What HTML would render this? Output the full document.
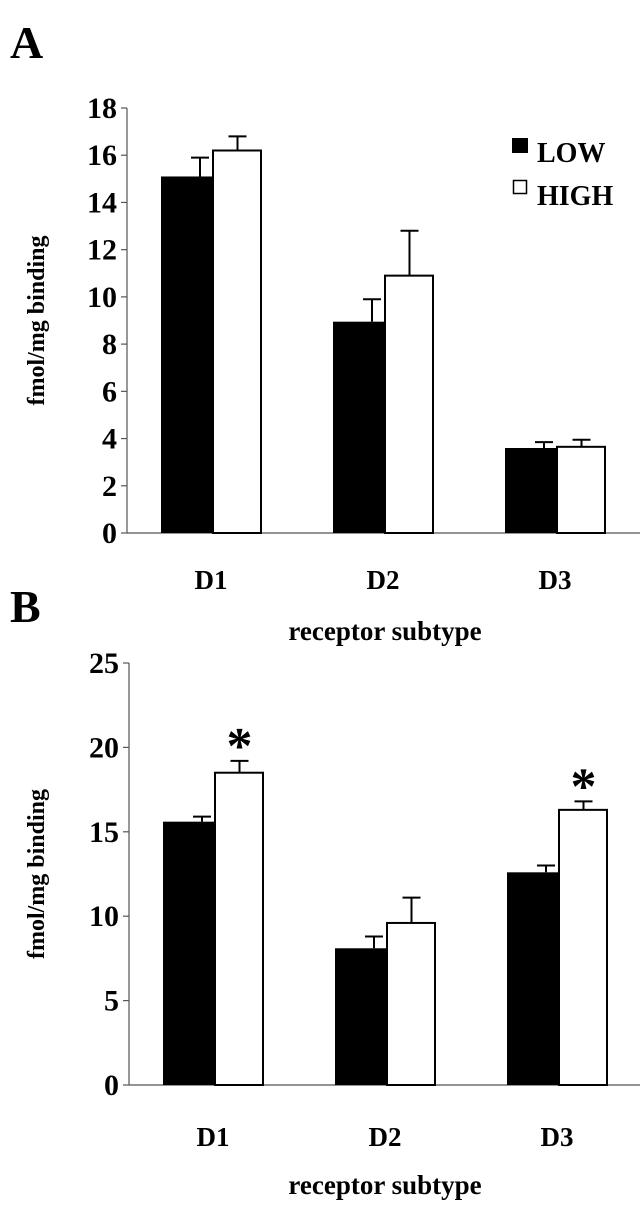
<!DOCTYPE html>
<html><head><meta charset="utf-8"><style>
body{margin:0;background:#fff}
svg text{font-family:"Liberation Serif",serif;font-weight:bold;fill:#000}
</style></head><body>
<svg width="644" height="1200" xmlns="http://www.w3.org/2000/svg">
<script>
const categories=["D1","D2","D3"];
const lowA=[15.1,8.95,3.6];
const lowAErr=[15.9,9.9,3.85];
const highA=[16.2,10.9,3.65];
const highAErr=[16.8,12.8,3.95];
const ticksA=[0,2,4,6,8,10,12,14,16,18];
const lowB=[15.6,8.1,12.6];
const lowBErr=[15.9,8.8,13.0];
const highB=[18.5,9.6,16.3];
const highBErr=[19.2,11.1,16.8];
const ticksB=[0,5,10,15,20,25];
const sigB=[true,false,true];
</script>
<text x="10" y="58" font-size="46">A</text>
<text x="10" y="622" font-size="46">B</text>
<g id="pa"></g>
<g id="pb"></g>
<g>
<rect x="512" y="138" width="16" height="15" fill="#000"/>
<text x="537" y="162" font-size="28">LOW</text>
<rect x="513.5" y="180.5" width="13" height="13" fill="#fff" stroke="#000" stroke-width="1.5"/>
<text x="537" y="205" font-size="28">HIGH</text>
</g>
<script>
const NS="http://www.w3.org/2000/svg";
function mk(p,t,a){const e=document.createElementNS(NS,t);for(const k in a)e.setAttribute(k,a[k]);p.appendChild(e);return e;}
function panel(g,o){
  const y=v=>o.y0-(v/o.max)*(o.y0-o.yTop);
  const ax=mk(g,"line",{x1:o.ax,y1:o.yTop,x2:o.ax,y2:o.y0,stroke:"#555","stroke-width":1.2});
  
  
  const xa=mk(g,"line",{x1:o.ax,y1:o.y0,x2:640,y2:o.y0,stroke:"#555","stroke-width":1.2});
  
  
  o.ticks.forEach(t=>{
    const tk=mk(g,"line",{x1:o.ax-6,y1:y(t),x2:o.ax,y2:y(t),stroke:"#555","stroke-width":1.2});
    
    
    const tl=mk(g,"text",{x:o.ax-10,y:y(t)+10,"font-size":30,"text-anchor":"end"});
    tl.textContent=t;
    
    
  });
  categories.forEach((c,i)=>{
    const x0=o.bx+i*172;
    const w1=52,w2=49;
    const lb=mk(g,"rect",{x:x0,y:y(o.low[i]),width:w1,height:o.y0-y(o.low[i]),fill:"#000"});
    
    
    const hb=mk(g,"rect",{x:x0+w1,y:y(o.high[i]),width:w2-1,height:o.y0-y(o.high[i]),fill:"#fff",stroke:"#000","stroke-width":2});
    
    
    [[x0+w1/2+13,o.low[i],o.lowErr[i]],[x0+w1+w2/2,o.high[i],o.highErr[i]]].forEach(([cx,v,e],k)=>{
      const el=mk(g,"path",{d:`M${cx},${y(v)}V${y(e)}M${cx-9},${y(e)}H${cx+9}`,stroke:"#000","stroke-width":2,fill:"none"});
      
      
    });
    if(o.sig&&o.sig[i]){
      const s=mk(g,"text",{x:x0+w1+w2/2,y:y(o.highErr[i])+2,"font-size":52,"text-anchor":"middle"});
      s.textContent="*";
      
      
    }
    const xl=mk(g,"text",{x:x0+50,y:o.xl,"font-size":27,"text-anchor":"middle"});
    xl.textContent=c;
    
    
  });
  const xt=mk(g,"text",{x:385,y:o.xt,"font-size":27,"text-anchor":"middle"});
  xt.textContent="receptor subtype";
  
  
  const yt=mk(g,"text",{x:0,y:0,"font-size":24,"text-anchor":"middle",transform:`translate(44,${(o.yTop+o.y0)/2}) rotate(-90)`});
  yt.textContent="fmol/mg binding";
  
  
}
panel(document.getElementById("pa"),{ax:127,yTop:108,y0:533,max:18,ticks:ticksA,bx:161,low:lowA,lowErr:lowAErr,high:highA,highErr:highAErr,xl:589,xt:640});
panel(document.getElementById("pb"),{ax:129,yTop:663,y0:1085,max:25,ticks:ticksB,bx:163,low:lowB,lowErr:lowBErr,high:highB,highErr:highBErr,sig:sigB,xl:1146,xt:1194});
</script>
</svg>
</body></html>
